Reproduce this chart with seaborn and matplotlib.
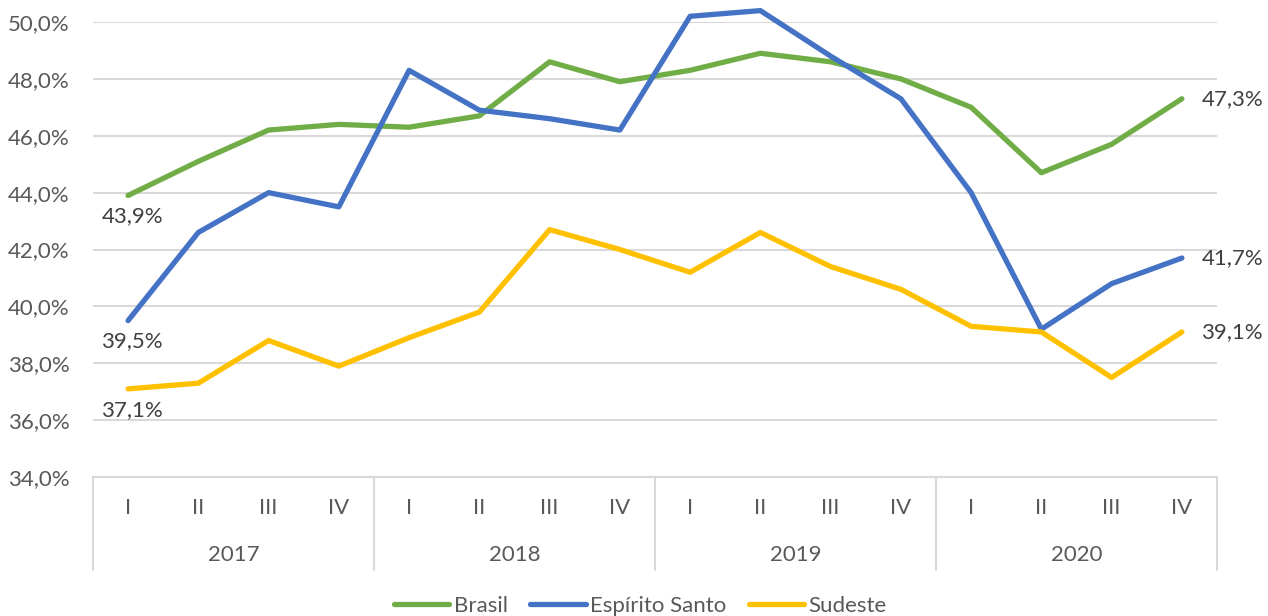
import pandas as pd
import numpy as np
import matplotlib.pyplot as plt
import matplotlib.transforms as mtransforms
import seaborn as sns

# --- data ---
years = ['2017', '2018', '2019', '2020']
quarters = ['I', 'II', 'III', 'IV']
brasil = [43.9, 45.1, 46.2, 46.4, 46.3, 46.7, 48.6, 47.9, 48.3, 48.9, 48.6, 48.0, 47.0, 44.7, 45.7, 47.3]
espirito_santo = [39.5, 42.6, 44.0, 43.5, 48.3, 46.9, 46.6, 46.2, 50.2, 50.4, 48.8, 47.3, 44.0, 39.2, 40.8, 41.7]
sudeste = [37.1, 37.3, 38.8, 37.9, 38.9, 39.8, 42.7, 42.0, 41.2, 42.6, 41.4, 40.6, 39.3, 39.1, 37.5, 39.1]
series_names = ['Brasil', 'Espírito Santo', 'Sudeste']
colors = ['#70AD47', '#4472C4', '#FFC000']

n = len(years) * len(quarters)
df = pd.concat([
    pd.DataFrame({'idx': np.arange(n), 'valor': vals, 'serie': name})
    for name, vals in zip(series_names, [brasil, espirito_santo, sudeste])
])

sns.set_style('white')
plt.rcParams['font.family'] = ['Lato', 'DejaVu Sans']

fig = plt.figure(figsize=(12.68, 6.16), dpi=100)
ax = fig.add_axes([0.0733, 0.2256, 0.8865, 0.7387])

sns.lineplot(data=df, x='idx', y='valor', hue='serie', palette=colors,
             linewidth=3.8, ax=ax, legend=True)
for line in ax.get_lines():
    line.set_clip_on(False)
    line.set_solid_capstyle('round')

ax.set_xlim(-0.5, n - 0.5)
ax.set_ylim(34, 50)
ax.set_yticks(np.arange(34, 50.1, 2))
ax.set_yticklabels([f'{v:.1f}%'.replace('.', ',') for v in np.arange(34, 50.1, 2)],
                   fontsize=16, color='#595959')
ax.tick_params(axis='y', length=0, pad=17)
ax.set_xticks([])
ax.set_xlabel('')
ax.set_ylabel('')
ax.grid(axis='y', color='#D9D9D9', linewidth=1.5)
ax.set_axisbelow(True)
for s in ['top', 'right', 'left']:
    ax.spines[s].set_visible(False)
ax.spines['bottom'].set_color('#D9D9D9')
ax.spines['bottom'].set_linewidth(1.5)

# multi-level category axis
trans = mtransforms.blended_transform_factory(ax.transData, ax.transAxes)
for i in range(n):
    ax.text(i, -0.068, quarters[i % 4], transform=trans, ha='center', va='center',
            fontsize=16, color='#595959')
for j, yr in enumerate(years):
    ax.text(j * 4 + 1.5, -0.171, yr, transform=trans, ha='center', va='center',
            fontsize=16, color='#595959')
for b in np.arange(-0.5, n, 4):
    ax.plot([b, b], [0, -0.204], transform=trans, color='#D9D9D9', lw=1.5, clip_on=False)

# data labels
for vals in [brasil, espirito_santo, sudeste]:
    ax.annotate(f'{vals[0]:.1f}%'.replace('.', ','), (0, vals[0]), xytext=(3, -15),
                textcoords='offset points', ha='center', va='center',
                fontsize=16, color='#404040')
    ax.annotate(f'{vals[-1]:.1f}%'.replace('.', ','), (n - 1, vals[-1]), xytext=(14, 0),
                textcoords='offset points', ha='left', va='center',
                fontsize=16, color='#404040')

handles, labels = ax.get_legend_handles_labels()
ax.get_legend().remove()
fig.legend(handles, labels, loc='center', bbox_to_anchor=(0.505, 0.016), ncol=3,
           frameon=False, fontsize=16, handlelength=2.5, handletextpad=0.2,
           columnspacing=1.0, labelcolor='#595959')

fig.savefig('out.png', dpi=100)
